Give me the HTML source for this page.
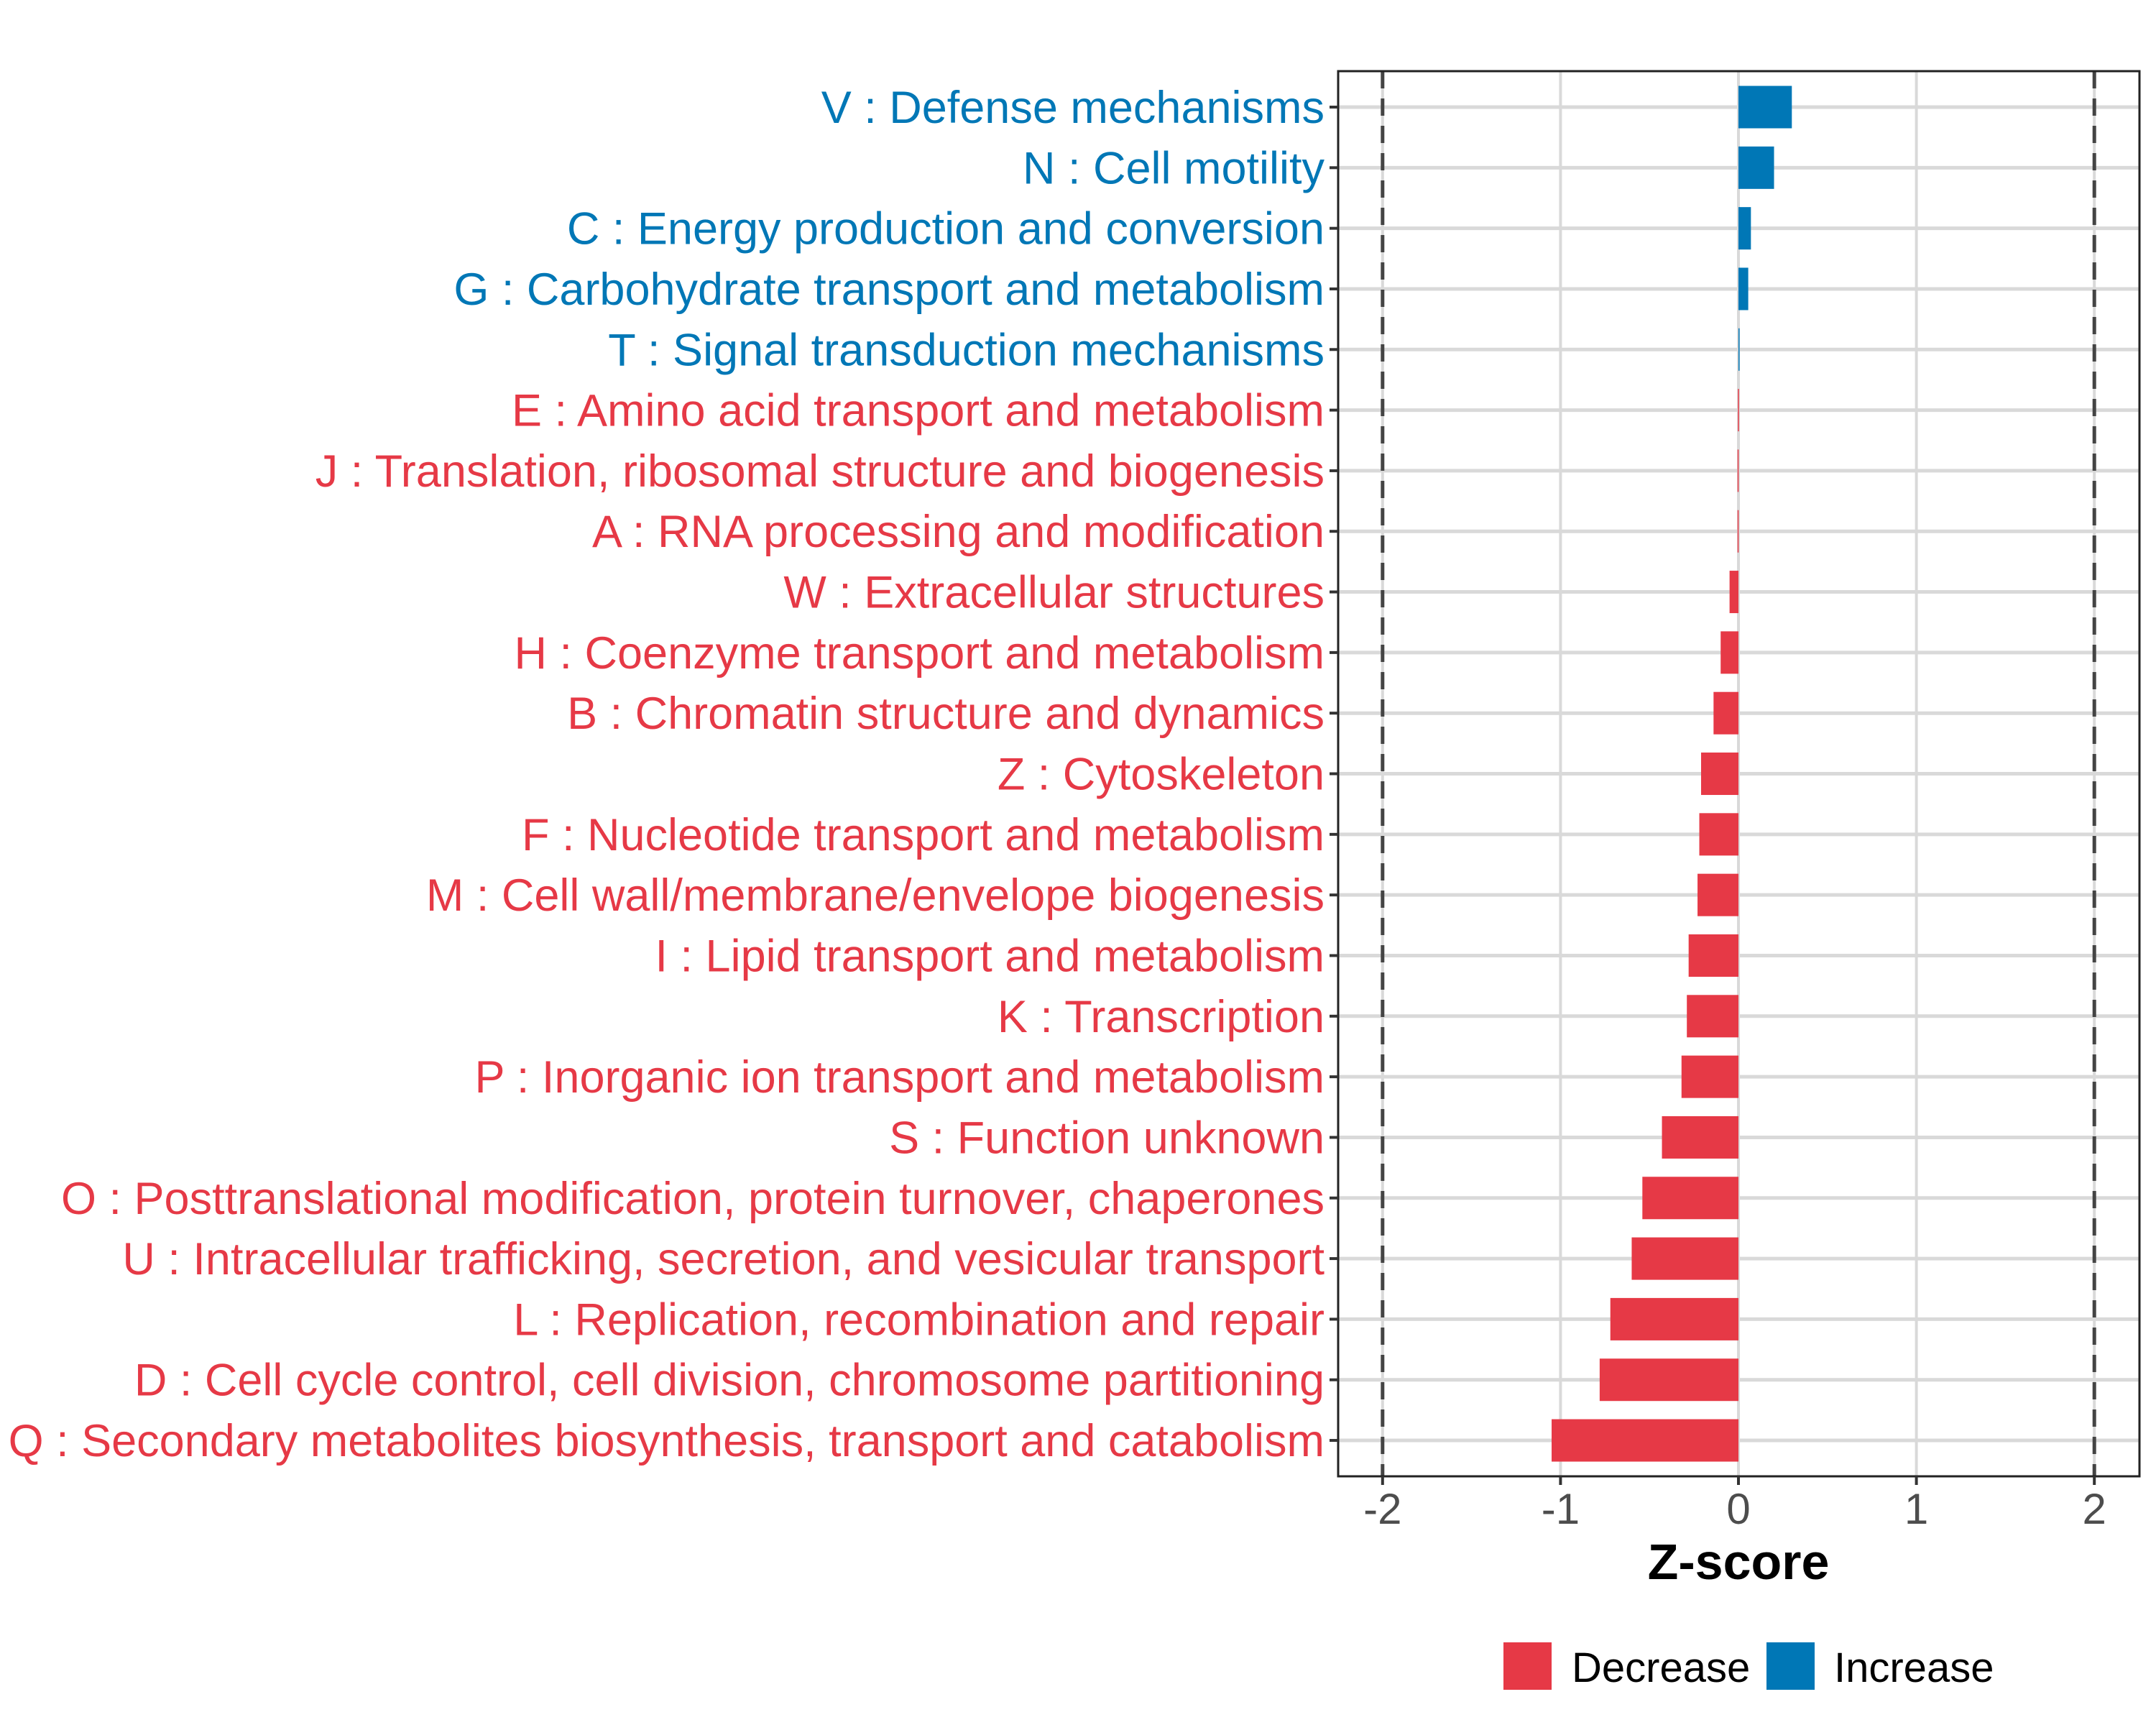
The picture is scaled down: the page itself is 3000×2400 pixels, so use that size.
<!DOCTYPE html>
<html><head><meta charset="utf-8"><style>
html,body{margin:0;padding:0;background:#fff;}
svg{display:block;font-family:"Liberation Sans",Arial,sans-serif;}
</style></head><body>
<svg id="chart" width="3000" height="2400" viewBox="0 0 3000 2400" xmlns="http://www.w3.org/2000/svg">
<rect x="0" y="0" width="3000" height="2400" fill="#fff"/>
<g id="grid"></g>
<g id="refs"></g>
<g id="bars"></g>
<rect x="1862" y="99" width="1115" height="1955" fill="none" stroke="#222" stroke-width="3"/>
<g id="yaxis"></g>
<g id="xaxis"></g>
<text x="2419" y="2197" text-anchor="middle" font-size="70" font-weight="bold" fill="#000">Z-score</text>
<g>
<g>
<rect x="2092" y="2285" width="67" height="66" fill="#E63946"/>
<text x="2187" y="2340" font-size="58" fill="#000">Decrease</text>
</g>
<g>
<rect x="2458" y="2285" width="67" height="66" fill="#0077B6"/>
<text x="2552" y="2340" font-size="58" fill="#000">Increase</text>
</g>
</g>
</svg>
<script>
const categories = ["V : Defense mechanisms","N : Cell motility","C : Energy production and conversion","G : Carbohydrate transport and metabolism","T : Signal transduction mechanisms","E : Amino acid transport and metabolism","J : Translation, ribosomal structure and biogenesis","A : RNA processing and modification","W : Extracellular structures","H : Coenzyme transport and metabolism","B : Chromatin structure and dynamics","Z : Cytoskeleton","F : Nucleotide transport and metabolism","M : Cell wall/membrane/envelope biogenesis","I : Lipid transport and metabolism","K : Transcription","P : Inorganic ion transport and metabolism","S : Function unknown","O : Posttranslational modification, protein turnover, chaperones","U : Intracellular trafficking, secretion, and vesicular transport","L : Replication, recombination and repair","D : Cell cycle control, cell division, chromosome partitioning","Q : Secondary metabolites biosynthesis, transport and catabolism"];
const zscores = [0.30,0.20,0.07,0.055,0.006,-0.003,-0.005,-0.005,-0.05,-0.10,-0.14,-0.21,-0.22,-0.23,-0.28,-0.29,-0.32,-0.43,-0.54,-0.60,-0.72,-0.78,-1.05];
const xTicks = [-2,-1,0,1,2];
const xTickLabels = ["-2","-1","0","1","2"];
const refLines = [-2,2];

const NS="http://www.w3.org/2000/svg";
const panel={left:1862,right:2977,top:99,bottom:2054};
function xScale(v){return 2419+v*247.6;}
function yScale(i){return 149+i*84.32;}
const bandH=59;
function mk(tag,attrs,parent){const e=document.createElementNS(NS,tag);for(const k in attrs)e.setAttribute(k,attrs[k]);parent.appendChild(e);return e;}
const grid=document.getElementById('grid'),bars=document.getElementById('bars'),yaxis=document.getElementById('yaxis'),xaxis=document.getElementById('xaxis'),refs=document.getElementById('refs');
xTicks.forEach((t,i)=>{
  const l=mk('line',{x1:xScale(t),x2:xScale(t),y1:panel.top,y2:panel.bottom,stroke:'#d9d9d9','stroke-width':4},grid);
  
  
  const tk=mk('line',{x1:xScale(t),x2:xScale(t),y1:panel.bottom,y2:panel.bottom+12,stroke:'#333','stroke-width':4},xaxis);
  
  
  const tx=mk('text',{x:xScale(t),y:2120,'text-anchor':'middle','font-size':60,fill:'#4d4d4d'},xaxis);
  tx.textContent=xTickLabels[i];
  
  
});
categories.forEach((c,i)=>{
  const y=yScale(i);
  const l=mk('line',{x1:panel.left,x2:panel.right,y1:y,y2:y,stroke:'#d9d9d9','stroke-width':5},grid);
  
  
  const v=zscores[i];
  const col=v>=0?'#0077B6':'#E63946';
  const x0=Math.min(xScale(0),xScale(v)),w=Math.max(Math.abs(xScale(v)-xScale(0)),1.5);
  const r=mk('rect',{x:x0,y:y-bandH/2,width:w,height:bandH,fill:col},bars);
  
  
  const tk=mk('line',{x1:panel.left-12,x2:panel.left,y1:y,y2:y,stroke:'#333','stroke-width':4},yaxis);
  
  
  const tx=mk('text',{x:1843,y:y+22,'text-anchor':'end','font-size':63,fill:col},yaxis);
  tx.textContent=c;
  
  
});
refLines.forEach(v=>{
  const l=mk('line',{x1:xScale(v),x2:xScale(v),y1:panel.top,y2:panel.bottom,stroke:'#444','stroke-width':5,'stroke-dasharray':'24 14'},refs);
  
  
});
</script>
</body></html>
